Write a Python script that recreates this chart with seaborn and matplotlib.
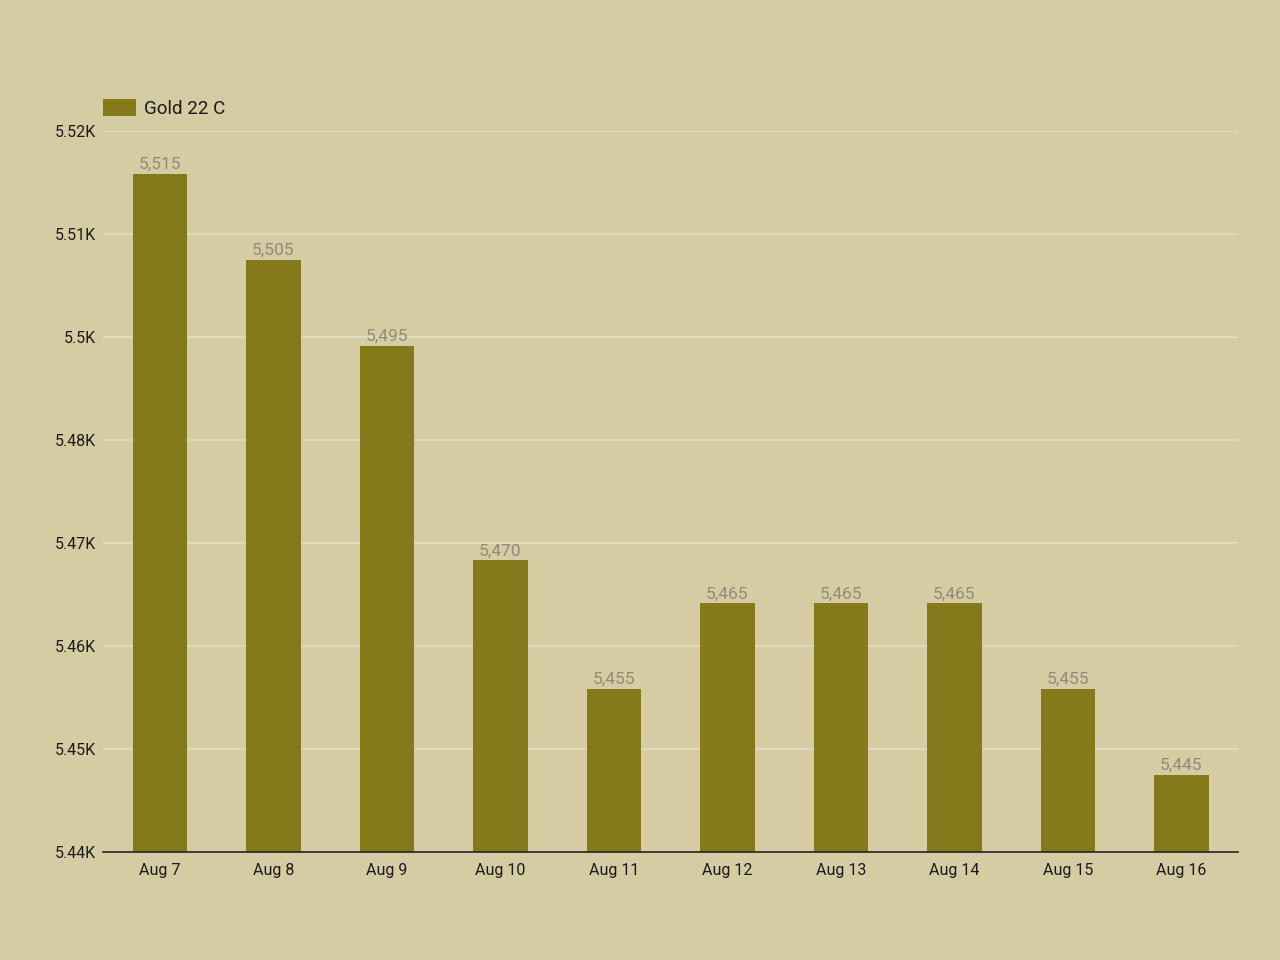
import numpy as np
import pandas as pd
import seaborn as sns
import matplotlib.pyplot as plt

# Gold price data
dates = ["Aug 7", "Aug 8", "Aug 9", "Aug 10", "Aug 11",
         "Aug 12", "Aug 13", "Aug 14", "Aug 15", "Aug 16"]
gold_22c = [5515, 5505, 5495, 5470, 5455, 5465, 5465, 5465, 5455, 5445]
y_ticks = [5436, 5448, 5460, 5472, 5484, 5496, 5508, 5520]

bg = "#d5cca4"
bar_color = "#847a1b"

sns.set_theme(style="white")
plt.rcParams['font.family'] = ['Roboto', 'DejaVu Sans']

df = pd.DataFrame({"Date": dates, "Gold 22 C": gold_22c})

fig = plt.figure(figsize=(12.8, 9.6), dpi=100, facecolor=bg)
ax = fig.add_axes([0.0805, 0.1125, 0.8867, 0.751])
ax.set_facecolor(bg)

sns.barplot(data=df, x="Date", y="Gold 22 C", color=bar_color, width=0.48,
            saturation=1, linewidth=0, ax=ax, label="Gold 22 C")

ax.set_ylim(y_ticks[0], y_ticks[-1])
ax.set_xlim(-0.5, len(dates) - 0.5)
ax.set_yticks(y_ticks)


def fmt(v):
    s = f"{v / 1000:.2f}".rstrip("0").rstrip(".")
    return s + "K"


ax.set_yticklabels([fmt(v) for v in y_ticks], fontsize=11.5, color="#1a1a1a")
ax.tick_params(axis="x", labelsize=11.5, colors="#1a1a1a", length=0, pad=8)
ax.tick_params(axis="y", length=0, pad=5)
ax.yaxis.grid(True, color="#e0dbc2", linewidth=1.3)
ax.set_axisbelow(True)
for side in ["top", "right", "left"]:
    ax.spines[side].set_visible(False)
ax.spines["bottom"].set_color("#222222")
ax.spines["bottom"].set_linewidth(1.2)
ax.set_xlabel("")
ax.set_ylabel("")

# value labels above the bars
for i, v in enumerate(gold_22c):
    ax.text(i, v + 0.2, f"{v:,}", ha="center", va="bottom", fontsize=12.5,
            color="#918c78")

leg = ax.legend(loc="lower left", bbox_to_anchor=(-0.0065, 1.008), frameon=False,
                fontsize=13.5, handlelength=1.75, handleheight=1.0,
                handletextpad=0.42, borderaxespad=0, labelcolor="#1a1a1a")
for h in leg.legend_handles:
    h.set_linewidth(0)

fig.savefig("out.png", dpi=100, facecolor=bg)
